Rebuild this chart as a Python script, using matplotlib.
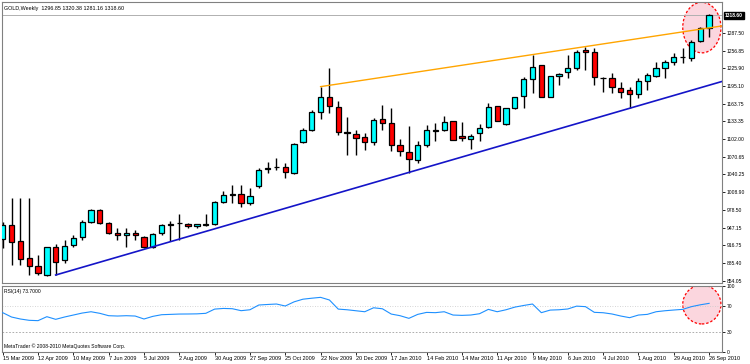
import numpy as np
import matplotlib.pyplot as plt
from matplotlib.patches import Ellipse

# weekly GOLD candles, 15 Mar 2009 .. 26 Sep 2010
opens = [927.4, 951.9, 923.9, 894.1, 880.1, 864.4, 913.4, 890.6, 916.9, 930.9,
         957.1, 978.1, 955.4, 937.9, 934.4, 937.9, 930.9, 913.4, 937.9, 952.7,
         954.5, 953.6, 950.1, 952.7, 953.6, 992.1, 1005.2, 1006.1, 990.4, 1020.1,
         1049.3, 1052.5, 1054.0, 1043.4, 1097.6, 1118.1, 1150.1, 1176.4, 1158.9, 1115.1,
         1110.6, 1105.3, 1096.6, 1136.9, 1130.9, 1091.9, 1079.6, 1065.6, 1091.9, 1115.9,
         1117.6, 1133.9, 1107.6, 1102.9, 1112.3, 1122.9, 1160.6, 1128.6, 1156.1, 1178.1,
         1206.9, 1231.4, 1176.4, 1212.6, 1219.1, 1226.1, 1258.1, 1254.1, 1209.6, 1208.6,
         1192.1, 1188.1, 1181.1, 1203.9, 1213.1, 1226.1, 1236.6, 1245.4, 1243.6, 1273.9,
         1296.85]
highs = [957.1, 999.1, 999.1, 999.1, 899.4, 913.4, 918.6, 925.6, 934.4, 960.6,
         979.9, 979.9, 957.1, 946.6, 946.6, 943.1, 932.6, 937.9, 953.6, 958.9,
         971.1, 955.4, 953.6, 971.1, 993.9, 1011.4, 1021.9, 1021.9, 1016.6, 1051.6,
         1062.6, 1069.1, 1060.4, 1095.4, 1121.6, 1153.1, 1193.9, 1227.1, 1168.9, 1141.4,
         1118.1, 1113.4, 1138.6, 1161.9, 1156.1, 1102.4, 1125.1, 1099.4, 1126.9, 1130.9,
         1142.6, 1133.9, 1132.6, 1110.6, 1128.1, 1165.9, 1160.6, 1156.6, 1176.4, 1211.4,
         1249.4, 1231.4, 1212.6, 1218.4, 1249.4, 1258.1, 1263.9, 1261.1, 1211.4, 1217.4,
         1202.6, 1193.9, 1208.6, 1217.4, 1237.6, 1240.6, 1253.4, 1261.1, 1275.6, 1297.9,
         1320.38]
lows = [911.6, 881.9, 881.9, 864.4, 864.4, 862.6, 864.4, 885.4, 913.4, 925.6,
        955.4, 953.6, 936.1, 925.6, 913.4, 925.6, 911.6, 911.6, 934.4, 923.9,
        925.6, 946.6, 946.6, 950.1, 951.9, 990.4, 990.4, 983.4, 986.9, 1016.6,
        1042.3, 1048.1, 1034.1, 1041.1, 1095.9, 1116.9, 1136.9, 1147.3, 1109.4, 1074.4,
        1074.4, 1083.1, 1091.9, 1118.1, 1081.9, 1072.6, 1042.3, 1060.9, 1088.9, 1098.9,
        1116.9, 1100.6, 1099.4, 1084.4, 1099.4, 1122.1, 1134.4, 1126.9, 1154.4, 1156.1,
        1183.4, 1176.4, 1176.4, 1196.9, 1208.6, 1223.1, 1223.1, 1196.9, 1185.1, 1183.4,
        1173.6, 1156.1, 1173.6, 1188.1, 1210.4, 1208.6, 1231.9, 1234.9, 1238.9, 1272.6,
        1281.16]
closes = [951.9, 922.1, 892.4, 880.1, 867.9, 913.4, 887.1, 915.1, 929.1, 957.1,
          978.1, 955.4, 937.9, 934.4, 937.9, 934.4, 913.4, 936.1, 951.9, 953.6,
          955.4, 950.1, 953.6, 953.6, 992.1, 1004.4, 1006.1, 990.4, 1002.6, 1048.1,
          1052.1, 1053.4, 1045.1, 1093.1, 1118.1, 1149.6, 1175.9, 1160.1, 1115.1, 1112.3,
          1103.6, 1097.6, 1135.1, 1130.9, 1091.9, 1081.4, 1066.9, 1091.4, 1117.6, 1117.6,
          1132.1, 1100.6, 1103.6, 1107.6, 1121.1, 1158.9, 1134.4, 1156.1, 1176.4, 1206.9,
          1227.9, 1176.4, 1212.6, 1216.1, 1226.1, 1255.1, 1254.1, 1210.4, 1209.1, 1192.9,
          1185.1, 1180.6, 1204.4, 1214.4, 1226.1, 1237.6, 1246.4, 1245.6, 1272.6, 1296.1,
          1318.60]

rsi = [59.6, 53, 50, 48, 47.5, 53.5, 49.5, 53, 56, 59,
       61, 58.6, 55, 54.5, 55, 54.5, 50, 54, 56.5, 57,
       57.5, 57.6, 57.8, 58.6, 65, 66, 65.6, 62.6, 64, 71.2,
       72, 72.7, 69.7, 76, 80, 81.5, 82.8, 78.8, 65, 64,
       62.5, 61, 67, 65.5, 57.5, 55, 51, 57, 60, 59.6,
       61, 56, 55.5, 56, 58, 64.6, 61, 64, 68, 70.5,
       72.7, 59.6, 63.5, 64, 65.2, 69.5, 68.7, 60.1, 59.5, 57.6,
       54.5, 52, 56, 57, 61, 62.5, 63.6, 64.6, 68.7, 71.5,
       73.7]

date_labels = ["15 Mar 2009", "12 Apr 2009", "10 May 2009", "7 Jun 2009", "5 Jul 2009",
               "2 Aug 2009", "30 Aug 2009", "27 Sep 2009", "25 Oct 2009", "22 Nov 2009",
               "20 Dec 2009", "17 Jan 2010", "14 Feb 2010", "14 Mar 2010", "11 Apr 2010",
               "9 May 2010", "6 Jun 2010", "4 Jul 2010", "1 Aug 2010", "29 Aug 2010",
               "26 Sep 2010"]
price_ticks = [1287.50, 1256.85, 1225.90, 1195.10, 1163.75, 1133.35, 1102.00, 1070.65,
               1040.25, 1008.90, 978.50, 947.15, 916.75, 885.40, 854.05]

# trend lines: (week index, price) anchor pairs
resist_pts = [(36, 1194.0), (66, 1264.1)]
support_pts = [(6, 864.35), (71, 1156.1)]

plt.rcParams['font.family'] = ['Liberation Sans', 'DejaVu Sans']

x = np.arange(len(closes))
o, h, l, c = map(np.array, (opens, highs, lows, closes))
up = c >= o

fig = plt.figure(figsize=(7.5, 3.64), dpi=100)
ax = fig.add_axes([2 / 750, 1 - 283 / 364, 720 / 750, 281 / 364])
ax_r = fig.add_axes([2 / 750, 1 - 352 / 364, 720 / 750, 66 / 364], sharex=ax)

xmax = 81.46
ax.set_xlim(-0.08, xmax)
ax.set_ylim(850.35, 1342.1)

# highlight circles
ax.add_patch(Ellipse((0.972, 0.909), 0.053, 0.18, transform=ax.transAxes,
                     facecolor='#fbd6de', edgecolor='red', ls=(0, (2, 1.5)), lw=0.9, zorder=1))
ax_r.add_patch(Ellipse((0.972, 0.72), 0.053, 0.59, transform=ax_r.transAxes,
                       facecolor='#fbd6de', edgecolor='red', ls=(0, (2, 1.5)), lw=0.9, zorder=1))

# bid line
ax.axhline(c[-1], color='#b0b0b0', lw=0.7, zorder=1)

# candles
ax.vlines(x, l, h, color='black', lw=1.0, zorder=3)
colors = np.where(up, '#00ffff', '#ff0000')
ax.bar(x, np.abs(c - o), bottom=np.minimum(o, c), width=0.6, color=colors,
       edgecolor='black', linewidth=0.9, zorder=4)

# trend lines, extended to the right edge
for pts, col, lw in ((resist_pts, '#ffa500', 1.0), (support_pts, '#1414c8', 1.2)):
    (x0, y0), (x1, y1) = pts
    k = (y1 - y0) / (x1 - x0)
    ax.plot([x0, xmax], [y0, y0 + k * (xmax - x0)], color=col, lw=lw, zorder=5)

ax.yaxis.tick_right()
ax.set_yticks(price_ticks)
ax.set_yticklabels([f"{v:.2f}" for v in price_ticks])
ax.tick_params(axis='y', labelsize=3.6, length=2, width=0.6, pad=1.5)
ax.tick_params(axis='x', bottom=False, labelbottom=False)
ax.annotate(f"{c[-1]:.2f}", xy=(1.0, c[-1]), xycoords=('axes fraction', 'data'),
            xytext=(2, 0), textcoords='offset points', va='center', ha='left',
            fontsize=3.6, color='white', fontweight='bold',
            bbox=dict(boxstyle='square,pad=0.15', fc='black', ec='black'))
ax.text(0.003, 0.985, f"GOLD,Weekly  {o[-1]:.2f} {h[-1]:.2f} {l[-1]:.2f} {c[-1]:.2f}",
        transform=ax.transAxes, fontsize=3.9, va='top', ha='left')

# RSI panel
ax_r.set_ylim(0, 100)
ax_r.axhline(70, color='#c8c8c8', lw=0.6, ls=(0, (1, 2)))
ax_r.axhline(30, color='#a0a0a0', lw=0.6, ls=(0, (2, 2)))
ax_r.plot(x, rsi, color='#1e90ff', lw=0.8, zorder=3)
ax_r.yaxis.tick_right()
ax_r.set_yticks([100, 70, 30, 0])
ax_r.tick_params(axis='y', labelsize=3.6, length=2, width=0.6, pad=1.5)
ax_r.text(0.003, 0.95, f"RSI(14) {rsi[-1]:.4f}", transform=ax_r.transAxes,
          fontsize=3.6, va='top', ha='left')
ax_r.text(0.003, 0.04, "MetaTrader \u00a9 2008-2010 MetaQuotes Software Corp.",
          transform=ax_r.transAxes, fontsize=3.6, va='bottom', ha='left')

ax_r.set_xticks(x[::4])
ax_r.set_xticklabels(date_labels, ha='left')
ax_r.tick_params(axis='x', labelsize=4.0, length=2, width=0.6, pad=1)

for a in (ax, ax_r):
    for s in a.spines.values():
        s.set_color('#808080')
        s.set_linewidth(0.8)

fig.savefig("out.png", dpi=100)
